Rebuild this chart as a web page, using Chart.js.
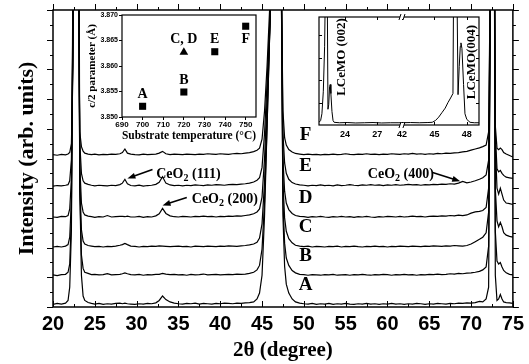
<!DOCTYPE html>
<html>
<head>
<meta charset="utf-8">
<script src="https://cdn.jsdelivr.net/npm/chart.js@4.4.1/dist/chart.umd.min.js"></script>
<style>
  html, body { margin: 0; padding: 0; background: #fff; }
  #wrap { position: relative; width: 529px; height: 364px; }
  #wrap canvas { position: absolute; }
</style>
</head>
<body>
<div id="wrap">
  <canvas id="main" width="529" height="364" style="left:0;top:0"></canvas>
  <canvas id="lattice" width="185" height="140" style="left:80px;top:8px"></canvas>
  <canvas id="zoomed" width="185" height="135" style="left:305px;top:10px"></canvas>
</div>
<script>
// ---- main XRD scans (relative intensity, arb. units) ----
const twoTheta = [
  20.0, 20.5, 21.0, 21.5, 21.8, 22.0, 22.2, 22.4, 22.6, 22.8, 23.0, 23.2, 23.4, 23.6, 23.8,
  24.2, 24.6, 25.0, 25.5, 26.0, 26.5, 27.0, 27.5, 28.0,
  28.3, 28.6, 28.9, 29.3,
  29.8, 30.3, 30.8, 31.3, 31.8, 32.3,
  32.7, 33.1, 33.5,
  34.0, 34.5, 35.0, 35.5, 36.0, 36.5, 37.0, 37.5, 38.0, 38.5, 39.0, 39.5, 40.0, 40.5, 41.0, 41.5, 42.0, 42.5, 43.0, 43.5, 44.0,
  44.4, 44.7, 45.0, 45.3, 45.6, 46.0, 46.5, 47.0, 47.3, 47.5, 47.7, 47.9, 48.2, 48.6, 49.0, 49.5,
  50.0, 50.5, 51.0, 51.5, 52.0, 52.5, 53.0, 53.5, 54.0, 54.5, 55.0, 55.5, 56.0, 56.5, 57.0, 57.5, 58.0, 58.5, 59.0, 59.5,
  60.0, 60.5, 61.0, 61.5, 62.0, 62.5, 63.0, 63.5, 64.0, 64.5, 65.0, 65.5, 66.0, 66.5, 67.0, 67.5, 68.0, 68.5, 69.0, 69.5, 70.0, 70.5,
  71.0, 71.4, 71.8, 72.1, 72.3, 72.5, 72.7, 72.9, 73.1, 73.3, 73.5, 73.7, 73.9, 74.2, 74.6, 75.0
];

const intA = [
  0.02, 0.05, 0.03, 0.06, 0.15, 0.6, 2.5, 12, 40, 45, 25, 4, 1.0, 0.3, 0.15,
  0.08, 0.05, 0.03, 0.05, 0.02, 0.04, 0.03, 0.05, 0.06,
  0.04, 0.06, 0.04, 0.03,
  0.02, 0.04, 0.03, 0.05, 0.04, 0.07,
  0.15, 0.3, 0.18,
  0.1, 0.06, 0.04, 0.03, 0.05, 0.04, 0.06, 0.03, 0.05, 0.04, 0.03, 0.05, 0.04, 0.06, 0.05, 0.04, 0.06, 0.05, 0.07, 0.08, 0.1,
  0.2, 0.4, 1.0, 3.0, 6, 10, 40, 40, 12, 3, 1.3, 0.7, 0.4, 0.2, 0.1, 0.06,
  0.04, 0.03, 0.05, 0.02, 0.04, 0.03, 0.05, 0.02, 0.04, 0.03, 0.05, 0.03, 0.02, 0.04, 0.03, 0.05, 0.03, 0.04, 0.02, 0.04,
  0.03, 0.05, 0.03, 0.04, 0.02, 0.04, 0.03, 0.05, 0.04, 0.02, 0.04, 0.03, 0.05, 0.04, 0.03, 0.05, 0.04, 0.06, 0.05, 0.07, 0.06, 0.08,
  0.12, 0.1, 0.2, 0.6, 10, 30, 20, 1.0, 0.15, 0.2, 0.35, 0.2, 0.1, 0.08, 0.07, 0.05
];
const intB = [
  0.03, 0.01, 0.04, 0.05, 0.12, 0.4, 2.0, 10, 35, 40, 20, 3, 0.7, 0.25, 0.12,
  0.08, 0.04, 0.05, 0.03, 0.04, 0.07, 0.03, 0.04, 0.05,
  0.07, 0.1, 0.07, 0.04,
  0.03, 0.05, 0.02, 0.04, 0.03, 0.05,
  0.05, 0.08, 0.06,
  0.04, 0.05, 0.03, 0.04, 0.02, 0.05, 0.03, 0.04, 0.06, 0.03, 0.04, 0.05, 0.03, 0.04, 0.05, 0.04, 0.06, 0.05, 0.06, 0.08, 0.12,
  0.2, 0.35, 0.9, 2.5, 5, 9, 35, 35, 10, 2.5, 1.1, 0.6, 0.35, 0.18, 0.1, 0.05,
  0.04, 0.02, 0.04, 0.03, 0.02, 0.04, 0.03, 0.05, 0.02, 0.03, 0.04, 0.02, 0.04, 0.03, 0.05, 0.03, 0.02, 0.04, 0.03, 0.05,
  0.04, 0.02, 0.04, 0.03, 0.05, 0.03, 0.04, 0.02, 0.04, 0.03, 0.05, 0.04, 0.06, 0.04, 0.05, 0.07, 0.06, 0.08, 0.07, 0.09, 0.1, 0.12,
  0.15, 0.2, 0.3, 1.0, 9, 30, 18, 1.5, 0.5, 0.4, 0.45, 0.3, 0.18, 0.1, 0.05, 0.03
];
const intC = [
  0.02, 0.04, 0.02, 0.05, 0.1, 0.35, 1.6, 8, 30, 35, 15, 2.2, 0.6, 0.22, 0.12,
  0.07, 0.05, 0.03, 0.04, 0.02, 0.04, 0.03, 0.05, 0.08,
  0.1, 0.14, 0.1, 0.05,
  0.04, 0.02, 0.04, 0.03, 0.05, 0.04,
  0.06, 0.05, 0.04,
  0.03, 0.04, 0.05, 0.03, 0.04, 0.02, 0.05, 0.04, 0.03, 0.05, 0.04, 0.03, 0.05, 0.04, 0.06, 0.05, 0.04, 0.06, 0.07, 0.09, 0.12,
  0.18, 0.32, 0.8, 2.2, 4.5, 8, 30, 30, 9, 2.2, 1.0, 0.55, 0.3, 0.16, 0.08, 0.05,
  0.03, 0.05, 0.02, 0.04, 0.03, 0.02, 0.04, 0.03, 0.05, 0.02, 0.04, 0.03, 0.05, 0.03, 0.02, 0.04, 0.03, 0.05, 0.03, 0.04,
  0.02, 0.04, 0.03, 0.05, 0.04, 0.03, 0.05, 0.04, 0.03, 0.05, 0.04, 0.06, 0.05, 0.04, 0.06, 0.05, 0.07, 0.06, 0.05, 0.07, 0.12, 0.2,
  0.28, 0.35, 0.5, 1.2, 8, 28, 16, 2.0, 0.9, 0.7, 0.85, 0.7, 0.5, 0.42, 0.38, 0.35
];
const intD = [
  0.03, 0.02, 0.05, 0.04, 0.08, 0.3, 1.3, 7, 25, 30, 12, 1.8, 0.5, 0.2, 0.1,
  0.06, 0.04, 0.02, 0.04, 0.03, 0.08, 0.03, 0.04, 0.05,
  0.05, 0.04, 0.06, 0.03,
  0.03, 0.05, 0.02, 0.04, 0.03, 0.07,
  0.14, 0.32, 0.15,
  0.07, 0.04, 0.03, 0.05, 0.04, 0.03, 0.05, 0.04, 0.06, 0.04, 0.05, 0.03, 0.05, 0.04, 0.06, 0.05, 0.07, 0.06, 0.08, 0.1, 0.14,
  0.2, 0.3, 0.7, 2.0, 4, 7, 30, 30, 8, 2.0, 0.9, 0.5, 0.28, 0.15, 0.08, 0.05,
  0.04, 0.02, 0.04, 0.03, 0.05, 0.03, 0.02, 0.04, 0.03, 0.05, 0.03, 0.04, 0.02, 0.04, 0.03, 0.05, 0.03, 0.02, 0.04, 0.03,
  0.05, 0.04, 0.03, 0.05, 0.03, 0.04, 0.06, 0.04, 0.05, 0.03, 0.05, 0.06, 0.05, 0.07, 0.06, 0.08, 0.07, 0.09, 0.08, 0.1, 0.16, 0.2,
  0.22, 0.25, 0.35, 1.0, 8, 28, 16, 2.5, 1.0, 0.8, 1.0, 0.8, 0.6, 0.5, 0.48, 0.45
];
const intE = [
  0.02, 0.04, 0.03, 0.05, 0.07, 0.2, 0.9, 5, 20, 25, 9, 1.5, 0.45, 0.2, 0.12,
  0.08, 0.05, 0.03, 0.05, 0.04, 0.03, 0.05, 0.04, 0.07,
  0.12, 0.25, 0.1, 0.04,
  0.03, 0.05, 0.02, 0.04, 0.05, 0.08,
  0.15, 0.34, 0.12,
  0.06, 0.04, 0.05, 0.03, 0.05, 0.04, 0.06, 0.05, 0.04, 0.06, 0.05, 0.07, 0.06, 0.05, 0.07, 0.08, 0.07, 0.09, 0.1, 0.12, 0.16,
  0.22, 0.3, 0.65, 1.8, 3.5, 6, 25, 25, 7, 1.8, 0.8, 0.45, 0.25, 0.14, 0.09, 0.06,
  0.05, 0.03, 0.05, 0.04, 0.06, 0.04, 0.05, 0.03, 0.06, 0.04, 0.05, 0.07, 0.05, 0.04, 0.06, 0.05, 0.07, 0.05, 0.06, 0.04,
  0.06, 0.05, 0.07, 0.05, 0.06, 0.08, 0.06, 0.07, 0.05, 0.07, 0.06, 0.08, 0.07, 0.09, 0.08, 0.1, 0.09, 0.12, 0.18, 0.13, 0.16, 0.2,
  0.25, 0.3, 0.4, 0.9, 7, 25, 14, 1.8, 0.6, 0.5, 0.55, 0.45, 0.38, 0.32, 0.3, 0.28
];
const intF = [
  0.03, 0.01, 0.04, 0.02, 0.05, 0.1, 0.4, 3, 15, 20, 7, 0.8, 0.3, 0.15, 0.08,
  0.05, 0.03, 0.05, 0.02, 0.04, 0.03, 0.05, 0.04, 0.06,
  0.1, 0.22, 0.08, 0.05,
  0.03, 0.02, 0.05, 0.03, 0.04, 0.05,
  0.08, 0.14, 0.06,
  0.03, 0.05, 0.04, 0.03, 0.05, 0.04, 0.03, 0.05, 0.04, 0.06, 0.05, 0.04, 0.06, 0.05, 0.04, 0.06, 0.07, 0.06, 0.08, 0.1, 0.13,
  0.18, 0.25, 0.55, 1.5, 3, 5.5, 20, 20, 6, 1.5, 0.6, 0.35, 0.2, 0.12, 0.07, 0.05,
  0.03, 0.05, 0.03, 0.04, 0.02, 0.04, 0.03, 0.05, 0.03, 0.04, 0.06, 0.04, 0.03, 0.05, 0.04, 0.06, 0.04, 0.05, 0.03, 0.05,
  0.04, 0.06, 0.05, 0.04, 0.06, 0.05, 0.07, 0.05, 0.06, 0.04, 0.06, 0.05, 0.07, 0.06, 0.08, 0.07, 0.09, 0.1, 0.12, 0.14, 0.18, 0.22,
  0.26, 0.3, 0.35, 0.8, 6, 20, 10, 1.0, 0.25, 0.2, 0.25, 0.2, 0.1, 0.05, 0.0, -0.05
];

const sampleNames = ['A', 'B', 'C', 'D', 'E', 'F'];
const sampleScans = [intA, intB, intC, intD, intE, intF];
// vertical stacking of the scans
const offsets = [0.07, 1.05, 2.0, 3.0, 4.05, 5.1];

// ---- inset: c/2 vs substrate temperature ----
const tempsSquare = [700, 720, 735, 750];
const cSquare = [3.8521, 3.8549, 3.8628, 3.8678];
const namesSquare = ['A', 'B', 'E', 'F'];
const tempsTriangle = [720];
const cTriangle = [3.8627];
const namesTriangle = ['C, D'];

// ---- inset: expanded scan with broken 2-theta axis ----
const zoomTheta = [
  21.6, 21.75, 21.87, 22.0, 22.12, 22.24, 22.34, 22.43, 22.5, 22.58, 22.64, 22.7, 22.8, 22.9, 23.0,
  23.5, 24.2, 25.0, 25.8, 26.6, 27.4, 28.2, 29.0, 29.28,
  42.0, 42.8, 43.6, 44.4, 44.8, 45.1, 45.4, 45.7, 46.0, 46.26, 46.5, 46.72, 46.8, 47.05, 47.19,
  47.3, 47.4, 47.46, 47.55, 47.7, 47.83, 48.0, 48.3, 48.7, 49.13
];
const zoomCounts = [
  0.12, 0.2, 0.5, 1.5, 3.5, 8, 8, 0.7, 0.9, 1.7, 1.8, 1.4, 0.6, 0.2, 0.12,
  0.1, 0.11, 0.09, 0.1, 0.11, 0.09, 0.1, 0.1, 0.1,
  0.1, 0.11, 0.1, 0.11, 0.12, 0.2, 0.35, 0.55, 0.75, 1.0, 1.2, 1.4, 8, 8, 1.35,
  2.6, 3.5, 3.65, 3.4, 1.8, 0.5, 0.25, 0.12, 0.1, 0.1
];
const zoomTickDeg = [24, 27, 42, 45, 48];
const breakLow = 29.28, breakHigh = 42;
const toAxis = d => (d <= breakLow ? d : d - (breakHigh - breakLow));

Chart.defaults.color = '#000';
const serif = 'Liberation Serif';
const sans = 'Liberation Sans';

// annotation placement (data coordinates of the main plot)
const letterX = 50.2, letterLift = 0.68;
const ceriaNotes = [
  { hkl: '(111)', at: [32.35, 4.36], tail: [31.9, 4.63], tip: [28.9, 4.33] },
  { hkl: '(200)', at: [36.6, 3.49], tail: [36.0, 3.69], tip: [33.1, 3.42] },
  { hkl: '(400)', at: [57.65, 4.33], tail: [65.4, 4.53], tip: [68.7, 4.23] }
];

function arrow(ctx, x0, y0, x1, y1) {
  const ang = Math.atan2(y1 - y0, x1 - x0);
  ctx.beginPath();
  ctx.moveTo(x0, y0);
  ctx.lineTo(x1 - 5 * Math.cos(ang), y1 - 5 * Math.sin(ang));
  ctx.lineWidth = 1.6;
  ctx.stroke();
  ctx.beginPath();
  ctx.moveTo(x1, y1);
  ctx.lineTo(x1 - 8 * Math.cos(ang) + 3 * Math.sin(ang), y1 - 8 * Math.sin(ang) - 3 * Math.cos(ang));
  ctx.lineTo(x1 - 8 * Math.cos(ang) - 3 * Math.sin(ang), y1 - 8 * Math.sin(ang) + 3 * Math.cos(ang));
  ctx.closePath();
  ctx.fill();
}

const mainDecor = {
  id: 'mainDecor',
  afterDatasetsDraw(chart) {
    const { ctx, chartArea: a, scales: { x, y } } = chart;
    ctx.save();
    ctx.strokeStyle = '#000';
    ctx.fillStyle = '#000';
    ctx.lineWidth = 1.5;
    ctx.strokeRect(a.left, a.top, a.right - a.left, a.bottom - a.top);
    ctx.lineWidth = 1;
    ctx.beginPath();
    for (const t of x.ticks) {
      const px = Math.round(x.getPixelForValue(t.value)) + 0.5;
      const len = t.value % 5 === 0 ? 6 : 3;
      ctx.moveTo(px, a.bottom); ctx.lineTo(px, a.bottom - len);
      ctx.moveTo(px, a.top); ctx.lineTo(px, a.top - len);
    }
    for (const t of y.ticks) {
      const py = Math.round(y.getPixelForValue(t.value)) + 0.5;
      const len = Number.isInteger(t.value) ? 6 : 3;
      ctx.moveTo(a.left, py); ctx.lineTo(a.left - len, py);
      ctx.moveTo(a.right, py); ctx.lineTo(a.right + len, py);
    }
    ctx.stroke();

    ctx.font = `bold 19px "${serif}"`;
    ctx.textAlign = 'center';
    ctx.textBaseline = 'middle';
    sampleNames.forEach((n, k) => {
      ctx.fillText(n, x.getPixelForValue(letterX), y.getPixelForValue(offsets[k] + letterLift));
    });

    ctx.textAlign = 'left';
    ctx.textBaseline = 'alphabetic';
    for (const note of ceriaNotes) {
      let px = x.getPixelForValue(note.at[0]);
      const py = y.getPixelForValue(note.at[1]);
      ctx.font = `bold 14px "${serif}"`;
      ctx.fillText('CeO', px, py);
      px += ctx.measureText('CeO').width;
      ctx.font = `bold 10px "${serif}"`;
      ctx.fillText('2', px, py + 3);
      px += ctx.measureText('2').width;
      ctx.font = `bold 14px "${serif}"`;
      ctx.fillText(' ' + note.hkl, px, py);
      arrow(ctx, x.getPixelForValue(note.tail[0]), y.getPixelForValue(note.tail[1]),
        x.getPixelForValue(note.tip[0]), y.getPixelForValue(note.tip[1]));
    }
    ctx.restore();
  }
};

new Chart(document.getElementById('main'), {
  type: 'line',
  data: {
    datasets: sampleScans.map((scan, k) => ({
      label: sampleNames[k],
      data: twoTheta.map((t, i) => ({ x: t, y: scan[i] + offsets[k] })),
      borderColor: '#000',
      borderWidth: 1.2,
      pointRadius: 0,
      tension: 0
    }))
  },
  options: {
    responsive: false,
    animation: false,
    devicePixelRatio: 1,
    layout: { padding: { top: 10, right: 13, left: 0, bottom: 0 } },
    plugins: { legend: { display: false }, tooltip: { enabled: false } },
    scales: {
      x: {
        type: 'linear', min: 20, max: 75,
        grid: { display: false, drawTicks: false },
        border: { display: false },
        ticks: {
          stepSize: 2.5, autoSkip: false, maxRotation: 0, padding: 5,
          font: { family: sans, weight: 'bold', size: 20 },
          callback: v => (v % 5 === 0 ? v : '')
        },
        title: {
          display: true, text: '2θ (degree)',
          font: { family: serif, weight: 'bold', size: 21 },
          padding: { top: 0, bottom: 1 }
        },
        afterFit: s => { s.height = 57; }
      },
      y: {
        type: 'linear', min: 0, max: 10,
        grid: { display: false, drawTicks: false },
        border: { display: false },
        ticks: { stepSize: 0.5, display: false },
        title: {
          display: true, text: 'Intensity (arb. units)',
          font: { family: serif, weight: 'bold', size: 22 },
          padding: { top: 14, bottom: 0 }
        },
        afterFit: s => { s.width = 53; }
      }
    }
  },
  plugins: [mainDecor]
});

// ---- lattice parameter inset ----
const latticeShift = { 'A': -12, 'B': -12, 'C, D': -13, 'E': -12, 'F': 13 };
const latticeDecor = {
  id: 'latticeDecor',
  beforeDatasetsDraw(chart) {
    const { ctx, chartArea: a } = chart;
    ctx.save();
    ctx.fillStyle = '#fff';
    ctx.fillRect(a.left, a.top, a.right - a.left, a.bottom - a.top);
    ctx.restore();
  },
  afterDatasetsDraw(chart) {
    const { ctx, chartArea: a } = chart;
    ctx.save();
    ctx.strokeStyle = '#000';
    ctx.lineWidth = 1.2;
    ctx.strokeRect(a.left, a.top, a.right - a.left, a.bottom - a.top);
    ctx.fillStyle = '#000';
    ctx.font = `bold 14px "${serif}"`;
    ctx.textAlign = 'center';
    ctx.textBaseline = 'middle';
    chart.data.datasets.forEach((ds, di) => {
      chart.getDatasetMeta(di).data.forEach((pt, i) => {
        const name = ds.names[i];
        ctx.fillText(name, pt.x, pt.y + latticeShift[name]);
      });
    });
    ctx.restore();
  }
};

new Chart(document.getElementById('lattice'), {
  type: 'scatter',
  data: {
    datasets: [
      {
        data: tempsSquare.map((t, i) => ({ x: t, y: cSquare[i] })),
        names: namesSquare, pointStyle: 'rect', pointRadius: 5,
        backgroundColor: '#000', borderColor: '#000', borderWidth: 0
      },
      {
        data: tempsTriangle.map((t, i) => ({ x: t, y: cTriangle[i] })),
        names: namesTriangle, pointStyle: 'triangle', pointRadius: 5,
        backgroundColor: '#000', borderColor: '#000', borderWidth: 0
      }
    ]
  },
  options: {
    responsive: false,
    animation: false,
    devicePixelRatio: 1,
    layout: { padding: { top: 7, right: 9, left: 0, bottom: 0 } },
    plugins: { legend: { display: false }, tooltip: { enabled: false } },
    scales: {
      x: {
        type: 'linear', min: 690, max: 755,
        grid: { drawOnChartArea: false, tickLength: 3, color: '#000' },
        border: { display: false },
        ticks: {
          stepSize: 10, includeBounds: false, maxRotation: 0, padding: 0,
          font: { family: sans, weight: 'bold', size: 8 }
        },
        title: {
          display: true, text: 'Substrate temperature (°C)',
          font: { family: serif, weight: 'bold', size: 11.5 },
          padding: { top: 0, bottom: 5 }
        },
        afterFit: s => { s.height = 31; }
      },
      y: {
        type: 'linear', min: 3.85, max: 3.87,
        grid: { drawOnChartArea: false, tickLength: 3, color: '#000' },
        border: { display: false },
        ticks: {
          stepSize: 0.005, padding: 1,
          font: { family: sans, weight: 'bold', size: 7 },
          callback: v => v.toFixed(3)
        },
        title: {
          display: true, text: 'c/2 parameter (Å)',
          font: { family: serif, weight: 'bold', size: 11 },
          padding: { top: 6, bottom: 0 }
        },
        afterFit: s => { s.width = 42; }
      }
    }
  },
  plugins: [latticeDecor]
});

// ---- expanded scan inset ----
const zoomLabels = [
  { text: 'LCeMO (002)', at: [23.72, 3.02] },
  { text: 'LCeMO(004)', at: [48.48, 2.8] }
];
const zoomDecor = {
  id: 'zoomDecor',
  beforeDatasetsDraw(chart) {
    const { ctx, chartArea: a } = chart;
    ctx.save();
    ctx.fillStyle = '#fff';
    ctx.fillRect(a.left, a.top, a.right - a.left, a.bottom - a.top);
    ctx.restore();
  },
  afterDatasetsDraw(chart) {
    const { ctx, chartArea: a, scales: { x, y } } = chart;
    ctx.save();
    ctx.strokeStyle = '#000';
    ctx.lineWidth = 1.2;
    ctx.strokeRect(a.left, a.top, a.right - a.left, a.bottom - a.top);
    ctx.lineWidth = 1;
    ctx.beginPath();
    for (const t of x.ticks) {
      const px = Math.round(x.getPixelForValue(t.value)) + 0.5;
      ctx.moveTo(px, a.bottom); ctx.lineTo(px, a.bottom - 3);
      ctx.moveTo(px, a.top); ctx.lineTo(px, a.top + 3);
    }
    for (let v = 1; v <= 4; v++) {
      const py = Math.round(y.getPixelForValue(v)) + 0.5;
      ctx.moveTo(a.left, py); ctx.lineTo(a.left + 3, py);
      ctx.moveTo(a.right, py); ctx.lineTo(a.right - 3, py);
    }
    ctx.stroke();
    // axis break marks
    const bx = x.getPixelForValue(breakLow);
    ctx.fillStyle = '#fff';
    ctx.fillRect(bx - 2, a.top - 2, 4, 4);
    ctx.fillRect(bx - 2, a.bottom - 2, 4, 4);
    ctx.beginPath();
    for (const yy of [a.top, a.bottom]) {
      ctx.moveTo(bx - 3, yy + 3); ctx.lineTo(bx - 1, yy - 3);
      ctx.moveTo(bx + 1, yy + 3); ctx.lineTo(bx + 3, yy - 3);
    }
    ctx.stroke();

    ctx.fillStyle = '#000';
    ctx.font = `bold 13px "${serif}"`;
    ctx.textAlign = 'center';
    ctx.textBaseline = 'middle';
    for (const lab of zoomLabels) {
      ctx.save();
      ctx.translate(x.getPixelForValue(toAxis(lab.at[0])), y.getPixelForValue(lab.at[1]));
      ctx.rotate(-Math.PI / 2);
      ctx.fillText(lab.text, 0, 0);
      ctx.restore();
    }
    ctx.restore();
  }
};

new Chart(document.getElementById('zoomed'), {
  type: 'line',
  data: {
    datasets: [{
      data: zoomTheta.map((t, i) => ({ x: toAxis(t), y: zoomCounts[i] })),
      borderColor: '#000', borderWidth: 1, pointRadius: 0, tension: 0
    }]
  },
  options: {
    responsive: false,
    animation: false,
    devicePixelRatio: 1,
    layout: { padding: { top: 7, right: 11, left: 0, bottom: 0 } },
    plugins: { legend: { display: false }, tooltip: { enabled: false } },
    scales: {
      x: {
        type: 'linear', min: toAxis(21.6), max: toAxis(49.13),
        grid: { display: false, drawTicks: false },
        border: { display: false },
        afterBuildTicks: s => { s.ticks = zoomTickDeg.map(d => ({ value: toAxis(d) })); },
        ticks: {
          autoSkip: false, maxRotation: 0, padding: 4,
          font: { family: sans, weight: 'bold', size: 9 },
          callback: (v, i) => zoomTickDeg[i]
        },
        afterFit: s => { s.height = 20; }
      },
      y: {
        type: 'linear', min: 0, max: 4.8,
        grid: { display: false, drawTicks: false },
        border: { display: false },
        ticks: { display: false },
        afterFit: s => { s.width = 14; }
      }
    }
  },
  plugins: [zoomDecor]
});
</script>
</body>
</html>
